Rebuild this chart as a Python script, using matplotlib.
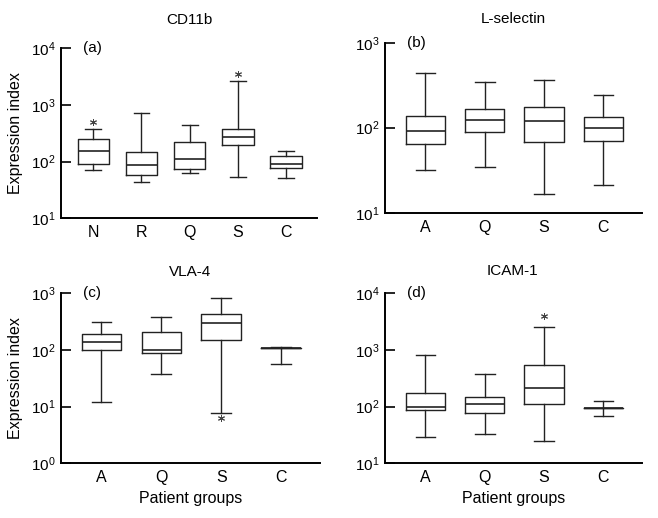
import matplotlib
matplotlib.use("Agg")
import matplotlib.pyplot as plt
from matplotlib.ticker import LogLocator, LogFormatterSciNotation, NullLocator

plt.rcParams['font.family'] = ['Liberation Sans', 'DejaVu Sans']
plt.rcParams['mathtext.default'] = 'regular'
plt.rcParams['font.size'] = 10

# (a) CD11b
cd11b_groups = ['N', 'R', 'Q', 'S', 'C']
cd11b_low = [71, 43, 62, 54, 52]
cd11b_q1 = [90, 59, 73, 194, 77]
cd11b_med = [156, 86, 111, 269, 90]
cd11b_q3 = [248, 146, 219, 372, 124]
cd11b_high = [372, 733, 450, 2617, 152]
cd11b_out = [[508], [], [], [3524], []]

# (b) L-selectin
lsel_groups = ['A', 'Q', 'S', 'C']
lsel_low = [32, 34.5, 16.7, 21.3]
lsel_q1 = [65, 90, 67, 70]
lsel_med = [91, 124, 121, 100]
lsel_q3 = [138, 166, 175, 135]
lsel_high = [444, 344, 367, 242]
lsel_out = [[], [], [], []]

# (c) VLA-4
vla4_groups = ['A', 'Q', 'S', 'C']
vla4_low = [12.1, 38, 7.8, 57]
vla4_q1 = [100, 90, 152, 107]
vla4_med = [137, 101, 304, 107]
vla4_q3 = [194, 211, 438, 107]
vla4_high = [312, 387, 839, 115]
vla4_out = [[], [], [6.2], []]

# (d) ICAM-1
icam_groups = ['A', 'Q', 'S', 'C']
icam_low = [29.6, 32.5, 24.8, 69]
icam_q1 = [86, 76, 113, 94]
icam_med = [99, 113, 216, 94]
icam_q3 = [174, 148, 543, 94]
icam_high = [816, 372, 2512, 128]
icam_out = [[], [], [3930], []]

W, H = 658, 518
fig = plt.figure(figsize=(W / 100, H / 100), dpi=100)


def panel(rect, groups, low, q1, med, q3, high, out, ylim, letter):
    l, t, r, b = rect
    ax = fig.add_axes([l / W, 1 - b / H, (r - l) / W, (b - t) / H])
    stats = []
    for i in range(len(groups)):
        stats.append(dict(whislo=low[i], q1=q1[i], med=med[i], q3=q3[i],
                          whishi=high[i], fliers=out[i]))
    n = len(groups)
    lc = '#222222'
    ax.bxp(stats, positions=range(1, n + 1), widths=0.66, capwidths=0.33,
           boxprops=dict(color=lc, lw=1.0),
           whiskerprops=dict(color=lc, lw=1.0),
           capprops=dict(color=lc, lw=1.0),
           medianprops=dict(color=lc, lw=1.2),
           flierprops=dict(marker=(6, 2, 0), markersize=5, markeredgewidth=0.7,
                           markeredgecolor='#444444', linestyle='none'))
    ax.set_yscale('log')
    ax.set_ylim(*ylim)
    ax.set_xlim(0.32, n + 0.65)
    ax.set_xticks(range(1, n + 1))
    ax.set_xticklabels(groups)
    ax.yaxis.set_major_locator(LogLocator(base=10))
    ax.yaxis.set_major_formatter(LogFormatterSciNotation())
    ax.yaxis.set_minor_locator(NullLocator())
    for s in ['top', 'right']:
        ax.spines[s].set_visible(False)
    for s in ['left', 'bottom']:
        ax.spines[s].set_linewidth(1.4)
    ax.tick_params(axis='y', direction='in', length=7, width=1.2, pad=4, labelsize=11)
    ax.tick_params(axis='x', length=0, pad=5, labelsize=11.5)
    ax.text(0.087, 1.0, letter, transform=ax.transAxes, ha='left', va='center',
            fontsize=11)
    return ax


ax_a = panel((60.7, 48.3, 317, 218.3), cd11b_groups, cd11b_low, cd11b_q1,
             cd11b_med, cd11b_q3, cd11b_high, cd11b_out, (10, 1e4), '(a)')
ax_b = panel((385, 42.7, 642, 212.7), lsel_groups, lsel_low, lsel_q1,
             lsel_med, lsel_q3, lsel_high, lsel_out, (10, 1e3), '(b)')
ax_c = panel((60.7, 293.3, 320, 463.3), vla4_groups, vla4_low, vla4_q1,
             vla4_med, vla4_q3, vla4_high, vla4_out, (1, 1e3), '(c)')
ax_d = panel((385, 293.3, 642, 463.3), icam_groups, icam_low, icam_q1,
             icam_med, icam_q3, icam_high, icam_out, (10, 1e4), '(d)')

fig.text(189 / W, 1 - 20 / H, 'CD11b', ha='center', va='center', fontsize=11)
fig.text(513 / W, 1 - 19 / H, 'L-selectin', ha='center', va='center', fontsize=11)
fig.text(190 / W, 1 - 271.7 / H, 'VLA-4', ha='center', va='center', fontsize=11)
fig.text(512 / W, 1 - 270.7 / H, 'ICAM-1', ha='center', va='center', fontsize=11)

for ax in (ax_a, ax_c):
    ax.set_ylabel('Expression index', fontsize=11.5)
    ax.yaxis.set_label_coords(-0.147, 0.5)
for ax in (ax_c, ax_d):
    ax.set_xlabel('Patient groups', fontsize=11.5)
    ax.xaxis.set_label_coords(0.5, -0.16)

fig.savefig('out.png', dpi=100)
